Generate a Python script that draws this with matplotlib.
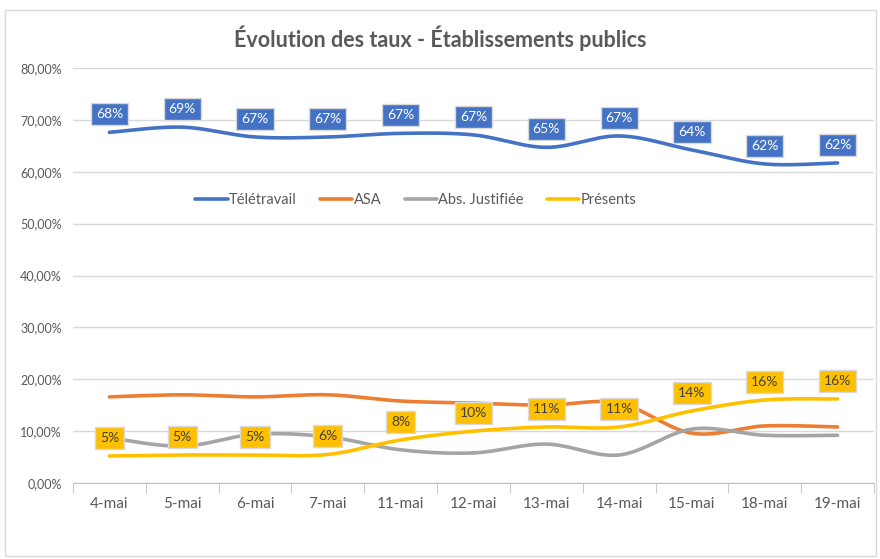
import numpy as np
import matplotlib
matplotlib.use("Agg")
import matplotlib.pyplot as plt
from matplotlib.patches import Rectangle

plt.rcParams['font.family'] = ['Lato', 'DejaVu Sans']

dates = ['4-mai', '5-mai', '6-mai', '7-mai', '11-mai', '12-mai', '13-mai',
         '14-mai', '15-mai', '18-mai', '19-mai']
teletravail = [67.6, 68.6, 66.7, 66.7, 67.4, 67.1, 64.7, 66.9, 64.2, 61.5, 61.7]
asa = [16.6, 17.0, 16.6, 17.0, 15.8, 15.4, 15.0, 15.4, 9.6, 11.0, 10.8]
abs_justifiee = [8.7, 7.1, 9.4, 8.9, 6.4, 5.8, 7.5, 5.4, 10.4, 9.2, 9.2]
presents = [5.2, 5.4, 5.4, 5.5, 8.3, 10.0, 10.8, 10.8, 13.9, 16.0, 16.2]

series = [('Télétravail', teletravail, '#4472c4'),
          ('ASA', asa, '#ed7d31'),
          ('Abs. Justifiée', abs_justifiee, '#a5a5a5'),
          ('Présents', presents, '#ffc000')]


def smooth(xs, ys, n=30):
    # catmull-rom curve through the points, like excel's smoothed line
    xs = np.asarray(xs, float)
    ys = np.asarray(ys, float)
    px = np.concatenate([[xs[0]], xs, [xs[-1]]])
    py = np.concatenate([[ys[0]], ys, [ys[-1]]])
    outx, outy = [], []
    for i in range(1, len(px) - 2):
        t = np.linspace(0, 1, n)
        for p, out in ((px, outx), (py, outy)):
            p0, p1, p2, p3 = p[i - 1], p[i], p[i + 1], p[i + 2]
            out.extend(0.5 * ((2 * p1) + (-p0 + p2) * t
                              + (2 * p0 - 5 * p1 + 4 * p2 - p3) * t ** 2
                              + (-p0 + 3 * p1 - 3 * p2 + p3) * t ** 3))
    return outx, outy


fig = plt.figure(figsize=(8.8, 5.59), dpi=100)
fig.patches.append(Rectangle((5 / 880, 0.005), 0.99, 1 - 10 / 559 - 0.005,
                             transform=fig.transFigure, fill=False,
                             edgecolor='#d9d9d9', linewidth=1))
ax = fig.add_axes([73 / 880, 1 - 483 / 559, 801 / 880, 415 / 559])

x = np.arange(len(dates))
for name, vals, col in series:
    sx, sy = smooth(x, vals)
    ax.plot(sx, sy, color=col, linewidth=2.6, label=name, solid_capstyle='round')

for vals, fc, tc in ((teletravail, '#4472c4', 'white'), (presents, '#ffc000', '#404040')):
    for i, v in enumerate(vals):
        ax.annotate('%d%%' % round(v), (i, v), textcoords='offset points',
                    xytext=(0, 13), ha='center', va='center', fontsize=10,
                    color=tc,
                    bbox=dict(boxstyle='square,pad=0.36', fc=fc, ec='#d9d9d9', lw=1))

ax.set_xlim(-0.5, len(dates) - 0.5)
ax.set_ylim(0, 80)
ax.set_yticks(range(0, 81, 10))
ax.set_yticklabels(['%d,00%%' % v for v in range(0, 81, 10)])
ax.set_xticks(x)
ax.set_xticklabels(dates)
ax.set_xticks(np.arange(-0.5, len(dates)), minor=True)
ax.tick_params(axis='x', which='major', length=0, pad=10, labelsize=11, colors='#595959')
ax.tick_params(axis='x', which='minor', length=7, color='#bfbfbf')
ax.tick_params(axis='y', length=0, pad=8, labelsize=9, colors='#595959')
ax.grid(axis='y', color='#d9d9d9', linewidth=1)
ax.set_axisbelow(True)
for s in ('top', 'right', 'left'):
    ax.spines[s].set_visible(False)
ax.spines['bottom'].set_color('#bfbfbf')

ax.legend(loc='center', bbox_to_anchor=(0.428, 0.682), ncol=4, frameon=False,
          fontsize=10.5, handlelength=2.2, handletextpad=0.1, columnspacing=1.6,
          labelcolor='#595959')

fig.text(0.5, 1 - 38 / 559, 'Évolution des taux - Établissements publics',
         ha='center', va='center', fontsize=15.5, fontweight='bold', color='#595959')

fig.savefig('out.png', dpi=100)
